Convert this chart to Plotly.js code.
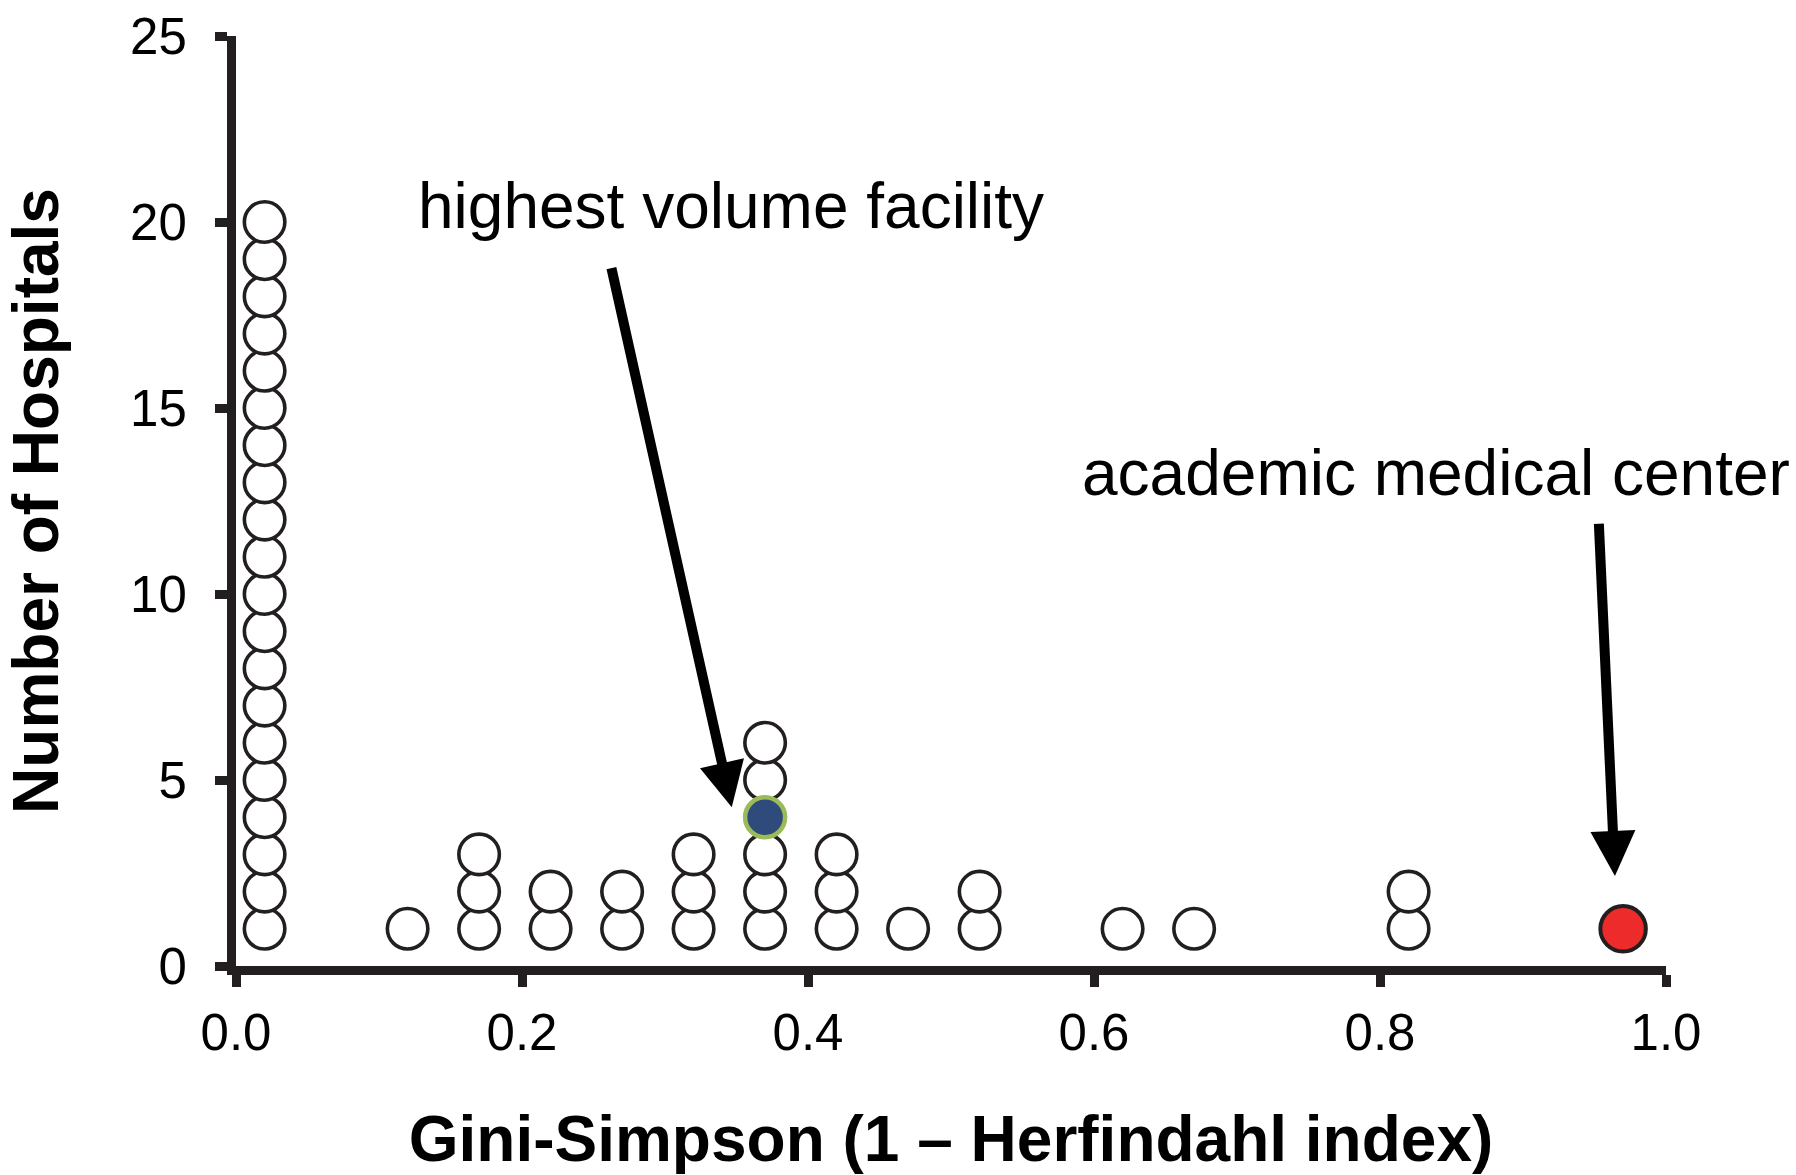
<!DOCTYPE html>
<html>
<head>
<meta charset="utf-8">
<script src="https://cdn.plot.ly/plotly-3.0.1.min.js"></script>
<style>
  html, body { margin: 0; padding: 0; background: #ffffff; }
  #chart { width: 1796px; height: 1175px; }
</style>
</head>
<body>
<div id="chart"></div>
<script>
// ---- data ----
const giniValues     = [0.02, 0.12, 0.17, 0.22, 0.27, 0.32, 0.37, 0.42, 0.47, 0.52, 0.62, 0.67, 0.82, 0.97];
const hospitalCounts = [20,   1,    3,    2,    2,    3,    6,    3,    1,    2,    1,    1,    2,    1];

// highlighted hospitals: gini value and position in the stack
const highestVolumeGini  = [0.37];
const highestVolumeLevel = [4];
const academicGini       = [0.97];
const academicLevel      = [1];

const xTickValues = [0, 0.2, 0.4, 0.6, 0.8, 1.0];
const xTickLabels = ['0.0', '0.2', '0.4', '0.6', '0.8', '1.0'];
const yTickValues = [0, 5, 10, 15, 20, 25];

const labelHighest  = 'highest volume facility';
const labelAcademic = 'academic medical center';

// arrows: [tail gini, tail count] -> [tip gini, tip count]
const arrowHighest  = { tail: [0.2623, 18.80], tip: [0.3467, 4.27] };
const arrowAcademic = { tail: [0.9530, 11.93], tip: [0.9643, 2.42] };
// label anchor positions (gini, count)
const textHighest  = [0.346, 20.42];
const textAcademic = [0.839, 13.25];

// ---- build dot stacks ----
function isHighlight(g, lvl) {
  for (let i = 0; i < highestVolumeGini.length; i++)
    if (highestVolumeGini[i] === g && highestVolumeLevel[i] === lvl) return true;
  for (let i = 0; i < academicGini.length; i++)
    if (academicGini[i] === g && academicLevel[i] === lvl) return true;
  return false;
}
const plainX = [], plainY = [];
giniValues.forEach((g, i) => {
  for (let lvl = 1; lvl <= hospitalCounts[i]; lvl++) {
    if (!isHighlight(g, lvl)) { plainX.push(g); plainY.push(lvl); }
  }
});

const ink = '#231f20';
const FONT = '"Liberation Sans", Arial, Helvetica, sans-serif';

const traces = [
  {
    type: 'scatter', mode: 'markers', x: plainX, y: plainY, cliponaxis: false,
    marker: { symbol: 'circle', size: 40.5, color: '#ffffff', line: { color: ink, width: 3.6 } },
    hoverinfo: 'x+y', showlegend: false
  },
  {
    type: 'scatter', mode: 'markers', x: highestVolumeGini, y: highestVolumeLevel, cliponaxis: false,
    marker: { symbol: 'circle', size: 40, color: '#2f4b7b', line: { color: '#9bbb59', width: 4.5 } },
    hoverinfo: 'x+y', showlegend: false
  },
  {
    type: 'scatter', mode: 'markers', x: academicGini, y: academicLevel, cliponaxis: false,
    marker: { symbol: 'circle', size: 45.5, color: '#ee2b2b', line: { color: ink, width: 4 } },
    hoverinfo: 'x+y', showlegend: false
  }
];

function arrow(a) {
  return {
    x: a.tip[0], y: a.tip[1], ax: a.tail[0], ay: a.tail[1],
    xref: 'x', yref: 'y', axref: 'x', ayref: 'y',
    text: '', showarrow: true, arrowhead: 2, arrowsize: 0.9, arrowwidth: 10,
    arrowcolor: '#000000', standoff: 0
  };
}
function label(txt, pos) {
  return {
    x: pos[0], y: pos[1], xref: 'x', yref: 'y', text: txt, showarrow: false,
    xanchor: 'center', yanchor: 'middle',
    font: { family: FONT, size: 64, color: '#000000' }
  };
}

const layout = {
  width: 1796, height: 1175,
  paper_bgcolor: '#ffffff', plot_bgcolor: '#ffffff',
  margin: { l: 236, r: 130, t: 36, b: 209, pad: 0 },
  showlegend: false,
  font: { family: FONT, color: '#000000' },
  xaxis: {
    range: [0, 1], tickmode: 'array', tickvals: xTickValues, ticktext: xTickLabels,
    showgrid: false, zeroline: false, showline: true, linecolor: ink, linewidth: 9,
    ticks: 'outside', ticklen: 12, tickwidth: 9, tickcolor: ink,
    tickfont: { family: FONT, size: 51, color: '#000000' }, ticklabelstandoff: 2,
    title: { text: 'Gini-Simpson (1 – Herfindahl index)', font: { family: FONT, size: 64, color: '#000000', weight: 'bold' }, standoff: 66 },
    automargin: false, fixedrange: true
  },
  yaxis: {
    range: [0, 25], tickmode: 'array', tickvals: yTickValues,
    showgrid: false, zeroline: false, showline: true, linecolor: ink, linewidth: 9,
    ticks: 'outside', ticklen: 12, tickwidth: 9, tickcolor: ink,
    tickfont: { family: FONT, size: 51, color: '#000000' }, ticklabelstandoff: 18,
    title: { text: 'Number of Hospitals', font: { family: FONT, size: 64, color: '#000000', weight: 'bold' }, standoff: 56 },
    automargin: false, fixedrange: true
  },
  annotations: [
    arrow(arrowHighest), arrow(arrowAcademic),
    label(labelHighest, textHighest), label(labelAcademic, textAcademic)
  ]
};

Plotly.newPlot('chart', traces, layout, { displayModeBar: false, staticPlot: true });
</script>
</body>
</html>
